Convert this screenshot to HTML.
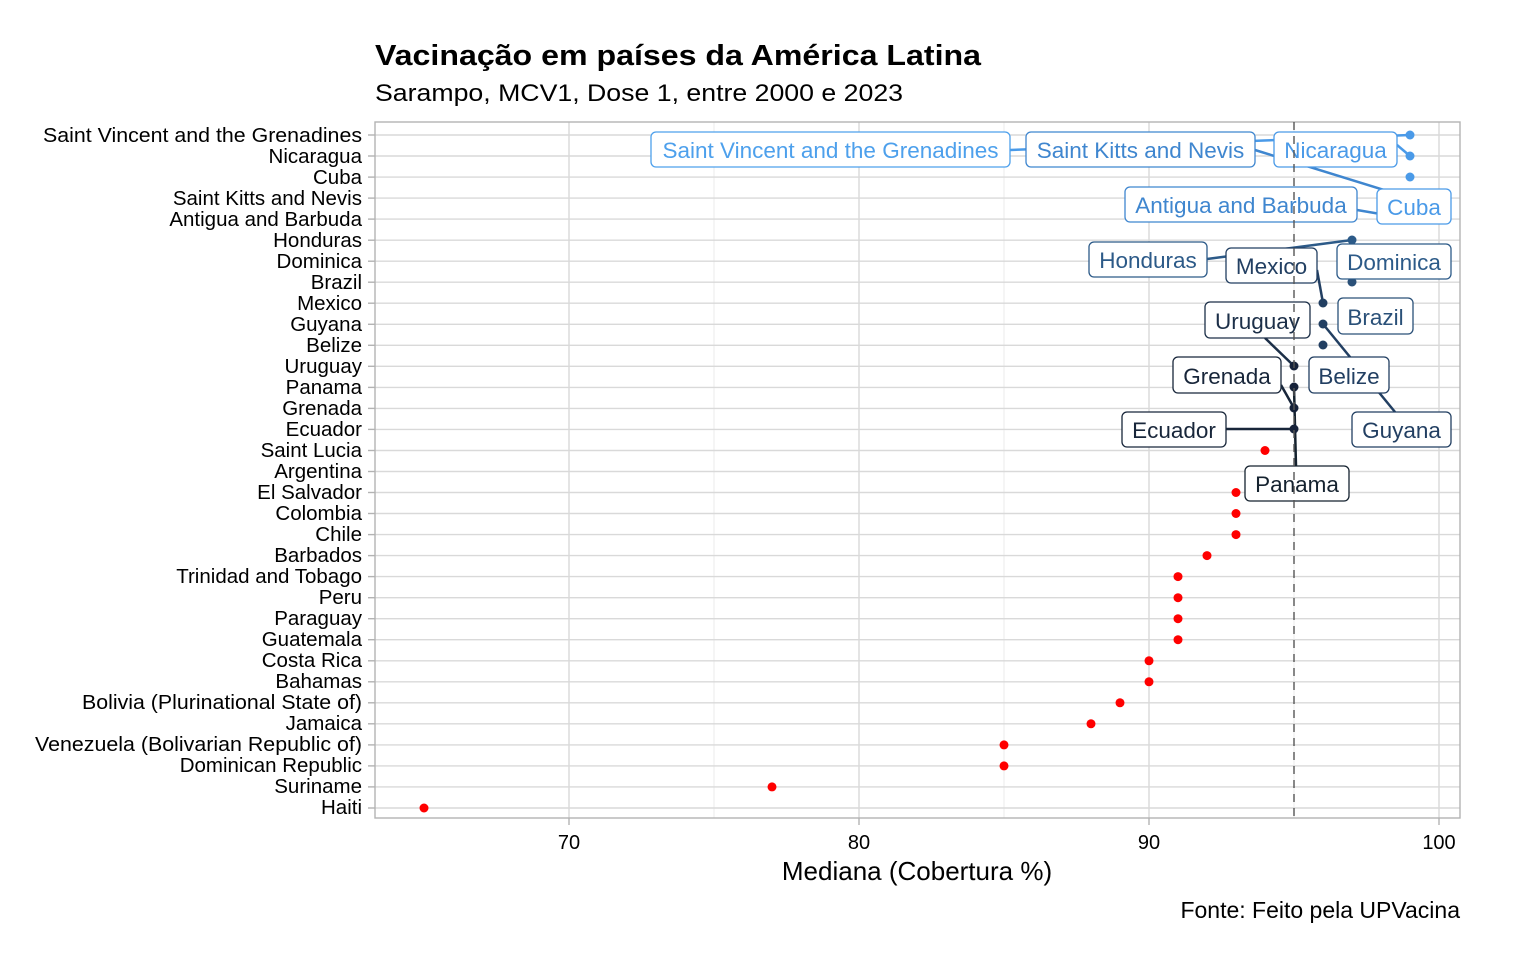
<!DOCTYPE html>
<html><head><meta charset="utf-8"><style>
html,body{margin:0;padding:0;background:#fff;}
svg{display:block;font-family:"Liberation Sans",Arial,sans-serif;}
</style></head><body>
<svg width="1536" height="960" viewBox="0 0 1536 960" xmlns="http://www.w3.org/2000/svg">
<rect width="1536" height="960" fill="#fff"/>
<text x="375" y="65" font-size="29" font-weight="bold" fill="#000" textLength="606" lengthAdjust="spacingAndGlyphs">Vacinação em países da América Latina</text>
<text x="375" y="101" font-size="24" fill="#000" textLength="528" lengthAdjust="spacingAndGlyphs">Sarampo, MCV1, Dose 1, entre 2000 e 2023</text>
<g stroke="#ebebeb" stroke-width="1">
<line x1="714" y1="122" x2="714" y2="818"/><line x1="1004" y1="122" x2="1004" y2="818"/><line x1="1294" y1="122" x2="1294" y2="818"/>
</g>
<g stroke="#d9d9d9" stroke-width="1.4">
<line x1="569" y1="122" x2="569" y2="818"/><line x1="859" y1="122" x2="859" y2="818"/><line x1="1149" y1="122" x2="1149" y2="818"/><line x1="1439" y1="122" x2="1439" y2="818"/>
</g>
<g stroke="#d9d9d9" stroke-width="1.4">
<line x1="375" x2="1460" y1="135" y2="135"/><line x1="375" x2="1460" y1="156" y2="156"/><line x1="375" x2="1460" y1="177.1" y2="177.1"/><line x1="375" x2="1460" y1="198.1" y2="198.1"/><line x1="375" x2="1460" y1="219.1" y2="219.1"/><line x1="375" x2="1460" y1="240.2" y2="240.2"/><line x1="375" x2="1460" y1="261.2" y2="261.2"/><line x1="375" x2="1460" y1="282.2" y2="282.2"/><line x1="375" x2="1460" y1="303.2" y2="303.2"/><line x1="375" x2="1460" y1="324.3" y2="324.3"/><line x1="375" x2="1460" y1="345.3" y2="345.3"/><line x1="375" x2="1460" y1="366.3" y2="366.3"/><line x1="375" x2="1460" y1="387.4" y2="387.4"/><line x1="375" x2="1460" y1="408.4" y2="408.4"/><line x1="375" x2="1460" y1="429.4" y2="429.4"/><line x1="375" x2="1460" y1="450.5" y2="450.5"/><line x1="375" x2="1460" y1="471.5" y2="471.5"/><line x1="375" x2="1460" y1="492.5" y2="492.5"/><line x1="375" x2="1460" y1="513.5" y2="513.5"/><line x1="375" x2="1460" y1="534.6" y2="534.6"/><line x1="375" x2="1460" y1="555.6" y2="555.6"/><line x1="375" x2="1460" y1="576.6" y2="576.6"/><line x1="375" x2="1460" y1="597.7" y2="597.7"/><line x1="375" x2="1460" y1="618.7" y2="618.7"/><line x1="375" x2="1460" y1="639.7" y2="639.7"/><line x1="375" x2="1460" y1="660.8" y2="660.8"/><line x1="375" x2="1460" y1="681.8" y2="681.8"/><line x1="375" x2="1460" y1="702.8" y2="702.8"/><line x1="375" x2="1460" y1="723.8" y2="723.8"/><line x1="375" x2="1460" y1="744.9" y2="744.9"/><line x1="375" x2="1460" y1="765.9" y2="765.9"/><line x1="375" x2="1460" y1="786.9" y2="786.9"/><line x1="375" x2="1460" y1="808" y2="808"/>
</g>
<rect x="375" y="122" width="1085" height="696" fill="none" stroke="#b3b3b3" stroke-width="1.4"/>
<g stroke="#b3b3b3" stroke-width="1.4">
<line x1="368" x2="375" y1="135" y2="135"/><line x1="368" x2="375" y1="156" y2="156"/><line x1="368" x2="375" y1="177.1" y2="177.1"/><line x1="368" x2="375" y1="198.1" y2="198.1"/><line x1="368" x2="375" y1="219.1" y2="219.1"/><line x1="368" x2="375" y1="240.2" y2="240.2"/><line x1="368" x2="375" y1="261.2" y2="261.2"/><line x1="368" x2="375" y1="282.2" y2="282.2"/><line x1="368" x2="375" y1="303.2" y2="303.2"/><line x1="368" x2="375" y1="324.3" y2="324.3"/><line x1="368" x2="375" y1="345.3" y2="345.3"/><line x1="368" x2="375" y1="366.3" y2="366.3"/><line x1="368" x2="375" y1="387.4" y2="387.4"/><line x1="368" x2="375" y1="408.4" y2="408.4"/><line x1="368" x2="375" y1="429.4" y2="429.4"/><line x1="368" x2="375" y1="450.5" y2="450.5"/><line x1="368" x2="375" y1="471.5" y2="471.5"/><line x1="368" x2="375" y1="492.5" y2="492.5"/><line x1="368" x2="375" y1="513.5" y2="513.5"/><line x1="368" x2="375" y1="534.6" y2="534.6"/><line x1="368" x2="375" y1="555.6" y2="555.6"/><line x1="368" x2="375" y1="576.6" y2="576.6"/><line x1="368" x2="375" y1="597.7" y2="597.7"/><line x1="368" x2="375" y1="618.7" y2="618.7"/><line x1="368" x2="375" y1="639.7" y2="639.7"/><line x1="368" x2="375" y1="660.8" y2="660.8"/><line x1="368" x2="375" y1="681.8" y2="681.8"/><line x1="368" x2="375" y1="702.8" y2="702.8"/><line x1="368" x2="375" y1="723.8" y2="723.8"/><line x1="368" x2="375" y1="744.9" y2="744.9"/><line x1="368" x2="375" y1="765.9" y2="765.9"/><line x1="368" x2="375" y1="786.9" y2="786.9"/><line x1="368" x2="375" y1="808" y2="808"/>
<line x1="569" x2="569" y1="818" y2="825"/><line x1="859" x2="859" y1="818" y2="825"/><line x1="1149" x2="1149" y1="818" y2="825"/><line x1="1439" x2="1439" y1="818" y2="825"/>
</g>
<g font-size="20.5" fill="#000" text-anchor="end">
<text x="362" y="142" textLength="319" lengthAdjust="spacingAndGlyphs">Saint Vincent and the Grenadines</text>
<text x="362" y="163">Nicaragua</text>
<text x="362" y="184">Cuba</text>
<text x="362" y="205">Saint Kitts and Nevis</text>
<text x="362" y="226">Antigua and Barbuda</text>
<text x="362" y="247">Honduras</text>
<text x="362" y="268">Dominica</text>
<text x="362" y="289">Brazil</text>
<text x="362" y="310">Mexico</text>
<text x="362" y="331">Guyana</text>
<text x="362" y="352">Belize</text>
<text x="362" y="373">Uruguay</text>
<text x="362" y="394">Panama</text>
<text x="362" y="415">Grenada</text>
<text x="362" y="436">Ecuador</text>
<text x="362" y="457">Saint Lucia</text>
<text x="362" y="478">Argentina</text>
<text x="362" y="499">El Salvador</text>
<text x="362" y="520">Colombia</text>
<text x="362" y="541">Chile</text>
<text x="362" y="562">Barbados</text>
<text x="362" y="583">Trinidad and Tobago</text>
<text x="362" y="604">Peru</text>
<text x="362" y="625">Paraguay</text>
<text x="362" y="646">Guatemala</text>
<text x="362" y="667">Costa Rica</text>
<text x="362" y="688">Bahamas</text>
<text x="362" y="709" textLength="280" lengthAdjust="spacingAndGlyphs">Bolivia (Plurinational State of)</text>
<text x="362" y="730">Jamaica</text>
<text x="362" y="751" textLength="327" lengthAdjust="spacingAndGlyphs">Venezuela (Bolivarian Republic of)</text>
<text x="362" y="772">Dominican Republic</text>
<text x="362" y="793">Suriname</text>
<text x="362" y="814">Haiti</text>
</g>
<g font-size="20" fill="#000" text-anchor="middle">
<text x="569" y="849">70</text><text x="859" y="849">80</text><text x="1149" y="849">90</text><text x="1439" y="849">100</text>
</g>
<text x="917" y="880" font-size="26" text-anchor="middle" fill="#000">Mediana (Cobertura %)</text>
<text x="1460" y="918" font-size="23" text-anchor="end" fill="#000">Fonte: Feito pela UPVacina</text>
<g stroke-width="2.5" fill="none">
<line x1="1010" y1="150" x2="1410" y2="135" stroke="#4a9ae8"/>
<line x1="1255" y1="150" x2="1410" y2="198" stroke="#3f86cf"/>
<line x1="1397" y1="145" x2="1410" y2="156" stroke="#4a9ae8"/>
<line x1="1357" y1="210" x2="1410" y2="219" stroke="#3f86cf"/>
<line x1="1207" y1="259" x2="1352" y2="240" stroke="#2c5a88"/>
<line x1="1317" y1="270" x2="1323" y2="303" stroke="#223f62"/>
<line x1="1265" y1="338" x2="1294" y2="366" stroke="#1c2f48"/>
<line x1="1395" y1="412" x2="1323" y2="324" stroke="#223f62"/>
<line x1="1281" y1="385" x2="1294" y2="408" stroke="#18263a"/>
<line x1="1226" y1="429" x2="1294" y2="429" stroke="#18263a"/>
<line x1="1296" y1="466" x2="1294" y2="387" stroke="#15222f"/>
</g>
<g>
<circle cx="1410" cy="135" r="4.5" fill="#4a9ae8"/><circle cx="1410" cy="156" r="4.5" fill="#4a9ae8"/><circle cx="1410" cy="177" r="4.5" fill="#4a9ae8"/>
<circle cx="1352" cy="240" r="4.5" fill="#2c5a88"/><circle cx="1352" cy="282" r="4.5" fill="#2a5078"/>
<circle cx="1323" cy="303" r="4.5" fill="#223f62"/><circle cx="1323" cy="324" r="4.5" fill="#223f62"/><circle cx="1323" cy="345" r="4.5" fill="#223f62"/>
<circle cx="1294" cy="366" r="4.5" fill="#16223a"/><circle cx="1294" cy="387" r="4.5" fill="#16223a"/><circle cx="1294" cy="408" r="4.5" fill="#16223a"/><circle cx="1294" cy="429" r="4.5" fill="#16223a"/>
</g>
<g fill="#ff0000">
<circle cx="1265" cy="450.5" r="4.5"/><circle cx="1236" cy="492.5" r="4.5"/><circle cx="1236" cy="513.5" r="4.5"/><circle cx="1236" cy="534.6" r="4.5"/>
<circle cx="1207" cy="555.6" r="4.5"/><circle cx="1178" cy="576.6" r="4.5"/><circle cx="1178" cy="597.7" r="4.5"/><circle cx="1178" cy="618.7" r="4.5"/><circle cx="1178" cy="639.7" r="4.5"/>
<circle cx="1149" cy="660.8" r="4.5"/><circle cx="1149" cy="681.8" r="4.5"/><circle cx="1120" cy="702.8" r="4.5"/><circle cx="1091" cy="723.8" r="4.5"/>
<circle cx="1004" cy="744.9" r="4.5"/><circle cx="1004" cy="765.9" r="4.5"/><circle cx="772" cy="786.9" r="4.5"/><circle cx="424" cy="808" r="4.5"/>
</g>
<g font-size="22.5" text-anchor="middle" stroke-width="1.3">
<rect x="651" y="132" width="359" height="35" rx="5" fill="#fff" stroke="#4da0ec"/><text x="830.5" y="158" fill="#4da0ec" stroke="none">Saint Vincent and the Grenadines</text>
<rect x="1026" y="132" width="229" height="35" rx="5" fill="#fff" stroke="#3f86cf"/><text x="1140.5" y="158" fill="#3f86cf" stroke="none">Saint Kitts and Nevis</text>
<rect x="1274" y="132" width="123" height="35" rx="5" fill="#fff" stroke="#4a9ae8"/><text x="1335.5" y="158" fill="#4a9ae8" stroke="none">Nicaragua</text>
<rect x="1125" y="187" width="232" height="35" rx="5" fill="#fff" stroke="#3f86cf"/><text x="1241" y="213" fill="#3f86cf" stroke="none">Antigua and Barbuda</text>
<rect x="1377" y="189" width="74" height="35" rx="5" fill="#fff" stroke="#4a9ae8"/><text x="1414" y="215" fill="#4a9ae8" stroke="none">Cuba</text>
<rect x="1089" y="242" width="118" height="35" rx="5" fill="#fff" stroke="#2c5a88"/><text x="1148" y="268" fill="#2c5a88" stroke="none">Honduras</text>
<rect x="1226" y="248" width="91" height="35" rx="5" fill="#fff" stroke="#223f62"/><text x="1271.5" y="274" fill="#223f62" stroke="none">Mexico</text>
<rect x="1337" y="244" width="114" height="35" rx="5" fill="#fff" stroke="#2c5a88"/><text x="1394" y="270" fill="#2c5a88" stroke="none">Dominica</text>
<rect x="1338" y="298" width="75" height="36" rx="5" fill="#fff" stroke="#2a5078"/><text x="1375.5" y="325" fill="#2a5078" stroke="none">Brazil</text>
<rect x="1205" y="302" width="105" height="36" rx="5" fill="#fff" stroke="#1c2f48"/><text x="1257.5" y="329" fill="#1c2f48" stroke="none">Uruguay</text>
<rect x="1309" y="357" width="80" height="36" rx="5" fill="#fff" stroke="#223f62"/><text x="1349" y="384" fill="#223f62" stroke="none">Belize</text>
<rect x="1173" y="357" width="108" height="36" rx="5" fill="#fff" stroke="#18263a"/><text x="1227" y="384" fill="#18263a" stroke="none">Grenada</text>
<rect x="1122" y="412" width="104" height="35" rx="5" fill="#fff" stroke="#18263a"/><text x="1174" y="438" fill="#18263a" stroke="none">Ecuador</text>
<rect x="1352" y="412" width="99" height="35" rx="5" fill="#fff" stroke="#223f62"/><text x="1401.5" y="438" fill="#223f62" stroke="none">Guyana</text>
<rect x="1245" y="466" width="104" height="35" rx="5" fill="#fff" stroke="#15222f"/><text x="1297" y="492" fill="#15222f" stroke="none">Panama</text>
</g>
<line x1="1294" y1="122" x2="1294" y2="818" stroke="#555" stroke-width="1.4" stroke-dasharray="8,6"/>
</svg>
</body></html>
